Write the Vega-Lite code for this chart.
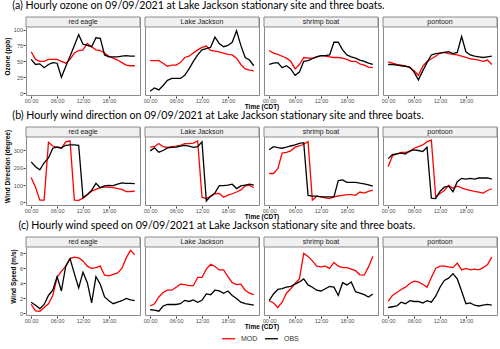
{
"$schema": "https://vega.github.io/schema/vega-lite/v6.json",
"padding": {"left": 4, "top": 1, "right": 0, "bottom": 0},
"background": "white",
"datasets": {
"oz": [
{"s":"red eagle","h":0,"MOD":65,"OBS":53},{"s":"red eagle","h":1,"MOD":53,"OBS":45},{"s":"red eagle","h":2,"MOD":50,"OBS":46},{"s":"red eagle","h":3,"MOD":50,"OBS":40},{"s":"red eagle","h":4,"MOD":53,"OBS":45},{"s":"red eagle","h":5,"MOD":53,"OBS":48},{"s":"red eagle","h":6,"MOD":53,"OBS":47},{"s":"red eagle","h":7,"MOD":50,"OBS":25},{"s":"red eagle","h":8,"MOD":47,"OBS":42},{"s":"red eagle","h":9,"MOD":53,"OBS":58},{"s":"red eagle","h":10,"MOD":63,"OBS":75},{"s":"red eagle","h":11,"MOD":67,"OBS":92},{"s":"red eagle","h":12,"MOD":68,"OBS":77},{"s":"red eagle","h":13,"MOD":78,"OBS":75},{"s":"red eagle","h":14,"MOD":73,"OBS":73},{"s":"red eagle","h":15,"MOD":68,"OBS":87},{"s":"red eagle","h":16,"MOD":67,"OBS":86},{"s":"red eagle","h":17,"MOD":63,"OBS":60},{"s":"red eagle","h":18,"MOD":58,"OBS":57},{"s":"red eagle","h":19,"MOD":55,"OBS":57},{"s":"red eagle","h":20,"MOD":52,"OBS":57},{"s":"red eagle","h":21,"MOD":48,"OBS":58},{"s":"red eagle","h":22,"MOD":44,"OBS":59},{"s":"red eagle","h":23,"MOD":43,"OBS":58},{"s":"red eagle","h":24,"MOD":43,"OBS":58},
{"s":"Lake Jackson","h":0,"MOD":51,"OBS":3},{"s":"Lake Jackson","h":1,"MOD":51,"OBS":8},{"s":"Lake Jackson","h":2,"MOD":51,"OBS":5},{"s":"Lake Jackson","h":3,"MOD":47,"OBS":12},{"s":"Lake Jackson","h":4,"MOD":42,"OBS":20},{"s":"Lake Jackson","h":5,"MOD":44,"OBS":23},{"s":"Lake Jackson","h":6,"MOD":44,"OBS":23},{"s":"Lake Jackson","h":7,"MOD":48,"OBS":23},{"s":"Lake Jackson","h":8,"MOD":56,"OBS":28},{"s":"Lake Jackson","h":9,"MOD":58,"OBS":38},{"s":"Lake Jackson","h":10,"MOD":63,"OBS":50},{"s":"Lake Jackson","h":11,"MOD":68,"OBS":60},{"s":"Lake Jackson","h":12,"MOD":72,"OBS":68},{"s":"Lake Jackson","h":13,"MOD":74,"OBS":70},{"s":"Lake Jackson","h":14,"MOD":67,"OBS":72},{"s":"Lake Jackson","h":15,"MOD":66,"OBS":88},{"s":"Lake Jackson","h":16,"MOD":65,"OBS":78},{"s":"Lake Jackson","h":17,"MOD":63,"OBS":73},{"s":"Lake Jackson","h":18,"MOD":61,"OBS":75},{"s":"Lake Jackson","h":19,"MOD":60,"OBS":80},{"s":"Lake Jackson","h":20,"MOD":55,"OBS":98},{"s":"Lake Jackson","h":21,"MOD":45,"OBS":75},{"s":"Lake Jackson","h":22,"MOD":38,"OBS":56},{"s":"Lake Jackson","h":23,"MOD":36,"OBS":52},{"s":"Lake Jackson","h":24,"MOD":35,"OBS":43},
{"s":"shrimp boat","h":0,"MOD":67,"OBS":45},{"s":"shrimp boat","h":1,"MOD":63,"OBS":47},{"s":"shrimp boat","h":2,"MOD":61,"OBS":48},{"s":"shrimp boat","h":3,"MOD":58,"OBS":40},{"s":"shrimp boat","h":4,"MOD":55,"OBS":43},{"s":"shrimp boat","h":5,"MOD":50,"OBS":38},{"s":"shrimp boat","h":6,"MOD":38,"OBS":28},{"s":"shrimp boat","h":7,"MOD":45,"OBS":33},{"s":"shrimp boat","h":8,"MOD":56,"OBS":50},{"s":"shrimp boat","h":9,"MOD":55,"OBS":51},{"s":"shrimp boat","h":10,"MOD":55,"OBS":54},{"s":"shrimp boat","h":11,"MOD":57,"OBS":57},{"s":"shrimp boat","h":12,"MOD":59,"OBS":59},{"s":"shrimp boat","h":13,"MOD":58,"OBS":59},{"s":"shrimp boat","h":14,"MOD":57,"OBS":60},{"s":"shrimp boat","h":15,"MOD":56,"OBS":80},{"s":"shrimp boat","h":16,"MOD":56,"OBS":80},{"s":"shrimp boat","h":17,"MOD":55,"OBS":68},{"s":"shrimp boat","h":18,"MOD":53,"OBS":60},{"s":"shrimp boat","h":19,"MOD":50,"OBS":57},{"s":"shrimp boat","h":20,"MOD":50,"OBS":55},{"s":"shrimp boat","h":21,"MOD":46,"OBS":52},{"s":"shrimp boat","h":22,"MOD":44,"OBS":50},{"s":"shrimp boat","h":23,"MOD":41,"OBS":47},{"s":"shrimp boat","h":24,"MOD":40,"OBS":45},
{"s":"pontoon","h":0,"MOD":49,"OBS":45},{"s":"pontoon","h":1,"MOD":47,"OBS":45},{"s":"pontoon","h":2,"MOD":45,"OBS":44},{"s":"pontoon","h":3,"MOD":44,"OBS":43},{"s":"pontoon","h":4,"MOD":43,"OBS":42},{"s":"pontoon","h":5,"MOD":40,"OBS":41},{"s":"pontoon","h":6,"MOD":35,"OBS":33},{"s":"pontoon","h":7,"MOD":28,"OBS":21},{"s":"pontoon","h":8,"MOD":42,"OBS":35},{"s":"pontoon","h":9,"MOD":50,"OBS":48},{"s":"pontoon","h":10,"MOD":54,"OBS":60},{"s":"pontoon","h":11,"MOD":58,"OBS":62},{"s":"pontoon","h":12,"MOD":63,"OBS":63},{"s":"pontoon","h":13,"MOD":64,"OBS":64},{"s":"pontoon","h":14,"MOD":62,"OBS":65},{"s":"pontoon","h":15,"MOD":61,"OBS":62},{"s":"pontoon","h":16,"MOD":60,"OBS":64},{"s":"pontoon","h":17,"MOD":58,"OBS":89},{"s":"pontoon","h":18,"MOD":56,"OBS":65},{"s":"pontoon","h":19,"MOD":54,"OBS":60},{"s":"pontoon","h":20,"MOD":53,"OBS":58},{"s":"pontoon","h":21,"MOD":52,"OBS":57},{"s":"pontoon","h":22,"MOD":50,"OBS":56},{"s":"pontoon","h":23,"MOD":52,"OBS":57},{"s":"pontoon","h":24,"MOD":45,"OBS":58}
],
"wd": [
{"s":"red eagle","h":0,"MOD":144,"OBS":234},{"s":"red eagle","h":1,"MOD":88,"OBS":206},{"s":"red eagle","h":2,"MOD":13,"OBS":188},{"s":"red eagle","h":3,"MOD":13,"OBS":229},{"s":"red eagle","h":4,"MOD":347,"OBS":257},{"s":"red eagle","h":5,"MOD":326,"OBS":313},{"s":"red eagle","h":6,"MOD":318,"OBS":320},{"s":"red eagle","h":7,"MOD":313,"OBS":315},{"s":"red eagle","h":8,"MOD":350,"OBS":330},{"s":"red eagle","h":9,"MOD":356,"OBS":333},{"s":"red eagle","h":10,"MOD":13,"OBS":332},{"s":"red eagle","h":11,"MOD":12,"OBS":330},{"s":"red eagle","h":12,"MOD":25,"OBS":28},{"s":"red eagle","h":13,"MOD":45,"OBS":45},{"s":"red eagle","h":14,"MOD":65,"OBS":70},{"s":"red eagle","h":15,"MOD":75,"OBS":110},{"s":"red eagle","h":16,"MOD":85,"OBS":85},{"s":"red eagle","h":17,"MOD":88,"OBS":95},{"s":"red eagle","h":18,"MOD":88,"OBS":98},{"s":"red eagle","h":19,"MOD":85,"OBS":97},{"s":"red eagle","h":20,"MOD":80,"OBS":105},{"s":"red eagle","h":21,"MOD":75,"OBS":113},{"s":"red eagle","h":22,"MOD":62,"OBS":110},{"s":"red eagle","h":23,"MOD":63,"OBS":110},{"s":"red eagle","h":24,"MOD":65,"OBS":108},
{"s":"Lake Jackson","h":0,"MOD":320,"OBS":298},{"s":"Lake Jackson","h":1,"MOD":322,"OBS":315},{"s":"Lake Jackson","h":2,"MOD":340,"OBS":290},{"s":"Lake Jackson","h":3,"MOD":322,"OBS":300},{"s":"Lake Jackson","h":4,"MOD":318,"OBS":315},{"s":"Lake Jackson","h":5,"MOD":322,"OBS":318},{"s":"Lake Jackson","h":6,"MOD":325,"OBS":320},{"s":"Lake Jackson","h":7,"MOD":330,"OBS":325},{"s":"Lake Jackson","h":8,"MOD":340,"OBS":330},{"s":"Lake Jackson","h":9,"MOD":340,"OBS":325},{"s":"Lake Jackson","h":10,"MOD":343,"OBS":318},{"s":"Lake Jackson","h":11,"MOD":355,"OBS":322},{"s":"Lake Jackson","h":12,"MOD":30,"OBS":350},{"s":"Lake Jackson","h":13,"MOD":22,"OBS":8},{"s":"Lake Jackson","h":14,"MOD":35,"OBS":35},{"s":"Lake Jackson","h":15,"MOD":50,"OBS":55},{"s":"Lake Jackson","h":16,"MOD":52,"OBS":97},{"s":"Lake Jackson","h":17,"MOD":30,"OBS":97},{"s":"Lake Jackson","h":18,"MOD":42,"OBS":100},{"s":"Lake Jackson","h":19,"MOD":50,"OBS":105},{"s":"Lake Jackson","h":20,"MOD":60,"OBS":80},{"s":"Lake Jackson","h":21,"MOD":72,"OBS":95},{"s":"Lake Jackson","h":22,"MOD":95,"OBS":100},{"s":"Lake Jackson","h":23,"MOD":100,"OBS":105},{"s":"Lake Jackson","h":24,"MOD":85,"OBS":100},
{"s":"shrimp boat","h":0,"MOD":167,"OBS":304},{"s":"shrimp boat","h":1,"MOD":167,"OBS":322},{"s":"shrimp boat","h":2,"MOD":195,"OBS":317},{"s":"shrimp boat","h":3,"MOD":285,"OBS":313},{"s":"shrimp boat","h":4,"MOD":289,"OBS":319},{"s":"shrimp boat","h":5,"MOD":298,"OBS":326},{"s":"shrimp boat","h":6,"MOD":319,"OBS":332},{"s":"shrimp boat","h":7,"MOD":326,"OBS":341},{"s":"shrimp boat","h":8,"MOD":336,"OBS":345},{"s":"shrimp boat","h":9,"MOD":351,"OBS":40},{"s":"shrimp boat","h":10,"MOD":13,"OBS":36},{"s":"shrimp boat","h":11,"MOD":36,"OBS":36},{"s":"shrimp boat","h":12,"MOD":32,"OBS":32},{"s":"shrimp boat","h":13,"MOD":26,"OBS":32},{"s":"shrimp boat","h":14,"MOD":22,"OBS":32},{"s":"shrimp boat","h":15,"MOD":32,"OBS":32},{"s":"shrimp boat","h":16,"MOD":37,"OBS":126},{"s":"shrimp boat","h":17,"MOD":41,"OBS":130},{"s":"shrimp boat","h":18,"MOD":45,"OBS":116},{"s":"shrimp boat","h":19,"MOD":45,"OBS":116},{"s":"shrimp boat","h":20,"MOD":41,"OBS":116},{"s":"shrimp boat","h":21,"MOD":60,"OBS":111},{"s":"shrimp boat","h":22,"MOD":54,"OBS":107},{"s":"shrimp boat","h":23,"MOD":64,"OBS":101},{"s":"shrimp boat","h":24,"MOD":71,"OBS":94},
{"s":"pontoon","h":0,"MOD":206,"OBS":253},{"s":"pontoon","h":1,"MOD":270,"OBS":276},{"s":"pontoon","h":2,"MOD":281,"OBS":281},{"s":"pontoon","h":3,"MOD":289,"OBS":285},{"s":"pontoon","h":4,"MOD":289,"OBS":279},{"s":"pontoon","h":5,"MOD":294,"OBS":298},{"s":"pontoon","h":6,"MOD":313,"OBS":304},{"s":"pontoon","h":7,"MOD":322,"OBS":300},{"s":"pontoon","h":8,"MOD":332,"OBS":294},{"s":"pontoon","h":9,"MOD":351,"OBS":319},{"s":"pontoon","h":10,"MOD":360,"OBS":25},{"s":"pontoon","h":11,"MOD":32,"OBS":22},{"s":"pontoon","h":12,"MOD":51,"OBS":64},{"s":"pontoon","h":13,"MOD":69,"OBS":88},{"s":"pontoon","h":14,"MOD":98,"OBS":94},{"s":"pontoon","h":15,"MOD":82,"OBS":62},{"s":"pontoon","h":16,"MOD":94,"OBS":120},{"s":"pontoon","h":17,"MOD":84,"OBS":139},{"s":"pontoon","h":18,"MOD":75,"OBS":135},{"s":"pontoon","h":19,"MOD":69,"OBS":139},{"s":"pontoon","h":20,"MOD":64,"OBS":135},{"s":"pontoon","h":21,"MOD":60,"OBS":141},{"s":"pontoon","h":22,"MOD":54,"OBS":141},{"s":"pontoon","h":23,"MOD":69,"OBS":142},{"s":"pontoon","h":24,"MOD":79,"OBS":135}
],
"ws": [
{"s":"red eagle","h":0,"MOD":1.2,"OBS":1.5},{"s":"red eagle","h":1,"MOD":0.35,"OBS":1.1},{"s":"red eagle","h":2,"MOD":0.3,"OBS":0.65},{"s":"red eagle","h":3,"MOD":0.8,"OBS":1.2},{"s":"red eagle","h":4,"MOD":1.3,"OBS":2.4},{"s":"red eagle","h":5,"MOD":2.4,"OBS":3.1},{"s":"red eagle","h":6,"MOD":4.8,"OBS":4.9},{"s":"red eagle","h":7,"MOD":5.6,"OBS":3.0},{"s":"red eagle","h":8,"MOD":6.3,"OBS":6.3},{"s":"red eagle","h":9,"MOD":7.3,"OBS":7.3},{"s":"red eagle","h":10,"MOD":7.5,"OBS":5.3},{"s":"red eagle","h":11,"MOD":7.4,"OBS":3.4},{"s":"red eagle","h":12,"MOD":7.0,"OBS":5.5},{"s":"red eagle","h":13,"MOD":6.3,"OBS":4.1},{"s":"red eagle","h":14,"MOD":6.0,"OBS":1.4},{"s":"red eagle","h":15,"MOD":6.1,"OBS":4.9},{"s":"red eagle","h":16,"MOD":6.3,"OBS":3.9},{"s":"red eagle","h":17,"MOD":5.1,"OBS":2.2},{"s":"red eagle","h":18,"MOD":5.0,"OBS":1.7},{"s":"red eagle","h":19,"MOD":5.2,"OBS":1.3},{"s":"red eagle","h":20,"MOD":5.4,"OBS":1.5},{"s":"red eagle","h":21,"MOD":6.0,"OBS":1.7},{"s":"red eagle","h":22,"MOD":7.4,"OBS":2.0},{"s":"red eagle","h":23,"MOD":8.4,"OBS":1.8},{"s":"red eagle","h":24,"MOD":7.8,"OBS":1.7},
{"s":"Lake Jackson","h":0,"MOD":1.0,"OBS":0.5},{"s":"Lake Jackson","h":1,"MOD":1.3,"OBS":0.45},{"s":"Lake Jackson","h":2,"MOD":2.2,"OBS":0.3},{"s":"Lake Jackson","h":3,"MOD":2.8,"OBS":1.0},{"s":"Lake Jackson","h":4,"MOD":3.1,"OBS":1.2},{"s":"Lake Jackson","h":5,"MOD":3.1,"OBS":1.2},{"s":"Lake Jackson","h":6,"MOD":3.5,"OBS":1.2},{"s":"Lake Jackson","h":7,"MOD":3.9,"OBS":1.3},{"s":"Lake Jackson","h":8,"MOD":3.85,"OBS":1.75},{"s":"Lake Jackson","h":9,"MOD":3.7,"OBS":1.6},{"s":"Lake Jackson","h":10,"MOD":3.7,"OBS":1.8},{"s":"Lake Jackson","h":11,"MOD":4.8,"OBS":1.5},{"s":"Lake Jackson","h":12,"MOD":4.8,"OBS":1.75},{"s":"Lake Jackson","h":13,"MOD":5.9,"OBS":2.6},{"s":"Lake Jackson","h":14,"MOD":6.55,"OBS":2.5},{"s":"Lake Jackson","h":15,"MOD":6.25,"OBS":3.1},{"s":"Lake Jackson","h":16,"MOD":5.8,"OBS":3.0},{"s":"Lake Jackson","h":17,"MOD":5.8,"OBS":2.7},{"s":"Lake Jackson","h":18,"MOD":4.9,"OBS":3.0},{"s":"Lake Jackson","h":19,"MOD":4.1,"OBS":2.4},{"s":"Lake Jackson","h":20,"MOD":3.85,"OBS":2.0},{"s":"Lake Jackson","h":21,"MOD":3.9,"OBS":1.5},{"s":"Lake Jackson","h":22,"MOD":3.1,"OBS":1.3},{"s":"Lake Jackson","h":23,"MOD":2.7,"OBS":1.2},{"s":"Lake Jackson","h":24,"MOD":2.5,"OBS":1.1},
{"s":"shrimp boat","h":0,"MOD":1.7,"OBS":1.7},{"s":"shrimp boat","h":1,"MOD":1.4,"OBS":2.6},{"s":"shrimp boat","h":2,"MOD":0.8,"OBS":3.2},{"s":"shrimp boat","h":3,"MOD":1.5,"OBS":3.3},{"s":"shrimp boat","h":4,"MOD":2.7,"OBS":3.5},{"s":"shrimp boat","h":5,"MOD":3.3,"OBS":3.6},{"s":"shrimp boat","h":6,"MOD":4.0,"OBS":3.9},{"s":"shrimp boat","h":7,"MOD":4.6,"OBS":4.2},{"s":"shrimp boat","h":8,"MOD":8.0,"OBS":4.6},{"s":"shrimp boat","h":9,"MOD":7.6,"OBS":3.8},{"s":"shrimp boat","h":10,"MOD":7.0,"OBS":3.5},{"s":"shrimp boat","h":11,"MOD":6.3,"OBS":3.1},{"s":"shrimp boat","h":12,"MOD":6.2,"OBS":3.0},{"s":"shrimp boat","h":13,"MOD":6.3,"OBS":3.3},{"s":"shrimp boat","h":14,"MOD":6.0,"OBS":3.6},{"s":"shrimp boat","h":15,"MOD":6.8,"OBS":3.5},{"s":"shrimp boat","h":16,"MOD":6.3,"OBS":2.4},{"s":"shrimp boat","h":17,"MOD":6.1,"OBS":4.1},{"s":"shrimp boat","h":18,"MOD":6.1,"OBS":3.8},{"s":"shrimp boat","h":19,"MOD":5.9,"OBS":4.2},{"s":"shrimp boat","h":20,"MOD":5.7,"OBS":2.9},{"s":"shrimp boat","h":21,"MOD":5.15,"OBS":2.7},{"s":"shrimp boat","h":22,"MOD":5.1,"OBS":2.5},{"s":"shrimp boat","h":23,"MOD":6.2,"OBS":2.2},{"s":"shrimp boat","h":24,"MOD":7.6,"OBS":2.6},
{"s":"pontoon","h":0,"MOD":1.6,"OBS":0.8},{"s":"pontoon","h":1,"MOD":2.4,"OBS":0.9},{"s":"pontoon","h":2,"MOD":2.8,"OBS":1.0},{"s":"pontoon","h":3,"MOD":3.2,"OBS":1.5},{"s":"pontoon","h":4,"MOD":3.5,"OBS":1.3},{"s":"pontoon","h":5,"MOD":4.0,"OBS":1.7},{"s":"pontoon","h":6,"MOD":4.3,"OBS":1.6},{"s":"pontoon","h":7,"MOD":4.2,"OBS":1.6},{"s":"pontoon","h":8,"MOD":3.9,"OBS":1.4},{"s":"pontoon","h":9,"MOD":3.5,"OBS":1.7},{"s":"pontoon","h":10,"MOD":4.8,"OBS":1.5},{"s":"pontoon","h":11,"MOD":6.0,"OBS":2.3},{"s":"pontoon","h":12,"MOD":6.3,"OBS":3.5},{"s":"pontoon","h":13,"MOD":6.3,"OBS":4.4},{"s":"pontoon","h":14,"MOD":6.2,"OBS":4.7},{"s":"pontoon","h":15,"MOD":6.1,"OBS":5.3},{"s":"pontoon","h":16,"MOD":6.7,"OBS":4.6},{"s":"pontoon","h":17,"MOD":5.8,"OBS":3.0},{"s":"pontoon","h":18,"MOD":6.0,"OBS":1.3},{"s":"pontoon","h":19,"MOD":5.8,"OBS":1.4},{"s":"pontoon","h":20,"MOD":5.9,"OBS":1.1},{"s":"pontoon","h":21,"MOD":5.8,"OBS":1.0},{"s":"pontoon","h":22,"MOD":6.1,"OBS":1.1},{"s":"pontoon","h":23,"MOD":6.5,"OBS":1.2},{"s":"pontoon","h":24,"MOD":7.5,"OBS":1.1}
]
},
"vconcat": [
{
"data": {"name": "oz"},
"title": {"text": "(a) Hourly ozone on 09/09/2021 at Lake Jackson stationary site and  three boats."},
"facet": {"column": {"field": "s", "type": "nominal", "sort": ["red eagle", "Lake Jackson", "shrimp boat", "pontoon"], "header": {"labels": false, "title": "Time (CDT)", "titleOrient": "bottom"}}},
"spacing": 3,
"spec": {
"width": 114, "height": 78,
"layer": [
{"transform": [{"filter": "datum.h == 0"}], "mark": {"type": "rect", "fill": "#f0f0f0", "stroke": "#8a8a8a", "strokeWidth": 1},
"encoding": {"y": {"datum": 104, "type": "quantitative", "scale": {"domain": [-3, 119.7], "nice": false, "zero": false}, "axis": {"title": "Ozone (ppb)", "values": [0, 12.5, 25, 37.5, 50, 62.5, 75, 87.5, 100], "labelExpr": "datum.value % 25 == 0 ? datum.label : ''", "tickOpacity": {"condition": {"test": "datum.value % 25 != 0", "value": 0}, "value": 1}, "gridColor": {"condition": {"test": "datum.value % 25 != 0", "value": "#f4f4f4"}, "value": "#e6e6e6"}}}, "y2": {"datum": 119.7}}},
{"transform": [{"filter": "datum.h == 0"}], "mark": {"type": "text", "fontSize": 7, "font": "Liberation Sans", "color": "#1a1a1a"},
"encoding": {"text": {"field": "s"},
"x": {"datum": 12, "type": "quantitative", "scale": {"domain": [-1.2, 25.2], "nice": false, "zero": false}, "axis": {"title": null, "values": [0, 3, 6, 9, 12, 15, 18, 21], "labelExpr": "datum.value % 6 == 0 ? ((datum.value < 10 ? '0' : '') + datum.value + ':00') : ''", "tickOpacity": {"condition": {"test": "datum.value % 6 != 0", "value": 0}, "value": 1}, "gridColor": {"condition": {"test": "datum.value % 6 != 0", "value": "#f4f4f4"}, "value": "#e6e6e6"}}},
"y": {"datum": 111.9, "type": "quantitative", "scale": {"domain": [-3, 119.7], "nice": false, "zero": false}, "axis": {"title": "Ozone (ppb)", "values": [0, 12.5, 25, 37.5, 50, 62.5, 75, 87.5, 100], "labelExpr": "datum.value % 25 == 0 ? datum.label : ''", "tickOpacity": {"condition": {"test": "datum.value % 25 != 0", "value": 0}, "value": 1}, "gridColor": {"condition": {"test": "datum.value % 25 != 0", "value": "#f4f4f4"}, "value": "#e6e6e6"}}}}},
{"transform": [{"fold": ["MOD", "OBS"], "as": ["src", "v"]}], "mark": {"type": "line", "strokeWidth": 1.3},
"encoding": {
"x": {"field": "h", "type": "quantitative", "scale": {"domain": [-1.2, 25.2], "nice": false, "zero": false}, "axis": {"title": null, "values": [0, 3, 6, 9, 12, 15, 18, 21], "labelExpr": "datum.value % 6 == 0 ? ((datum.value < 10 ? '0' : '') + datum.value + ':00') : ''", "tickOpacity": {"condition": {"test": "datum.value % 6 != 0", "value": 0}, "value": 1}, "gridColor": {"condition": {"test": "datum.value % 6 != 0", "value": "#f4f4f4"}, "value": "#e6e6e6"}}},
"y": {"field": "v", "type": "quantitative", "scale": {"domain": [-3, 119.7], "nice": false, "zero": false}, "axis": {"title": "Ozone (ppb)", "values": [0, 12.5, 25, 37.5, 50, 62.5, 75, 87.5, 100], "labelExpr": "datum.value % 25 == 0 ? datum.label : ''", "tickOpacity": {"condition": {"test": "datum.value % 25 != 0", "value": 0}, "value": 1}, "gridColor": {"condition": {"test": "datum.value % 25 != 0", "value": "#f4f4f4"}, "value": "#e6e6e6"}}},
"color": {"field": "src", "type": "nominal", "scale": {"domain": ["MOD", "OBS"], "range": ["#ff0000", "#000000"]}, "legend": {"title": null, "orient": "none", "direction": "horizontal", "legendX": 195, "legendY": 314}}
}}
]
}
},
{
"data": {"name": "wd"},
"title": {"text": "(b) Hourly wind direction on 09/09/2021 at Lake Jackson stationary site and three boats."},
"facet": {"column": {"field": "s", "type": "nominal", "sort": ["red eagle", "Lake Jackson", "shrimp boat", "pontoon"], "header": {"labels": false, "title": "Time (CDT)", "titleOrient": "bottom"}}},
"spacing": 3,
"spec": {
"width": 114, "height": 78,
"layer": [
{"transform": [{"filter": "datum.h == 0"}], "mark": {"type": "rect", "fill": "#f0f0f0", "stroke": "#8a8a8a", "strokeWidth": 1},
"encoding": {"y": {"datum": 378, "type": "quantitative", "scale": {"domain": [-15, 435.8], "nice": false, "zero": false}, "axis": {"title": "Wind Direction (degree)", "values": [0, 50, 100, 150, 200, 250, 300, 350], "labelExpr": "datum.value % 100 == 0 ? datum.label : ''", "tickOpacity": {"condition": {"test": "datum.value % 100 != 0", "value": 0}, "value": 1}, "gridColor": {"condition": {"test": "datum.value % 100 != 0", "value": "#f4f4f4"}, "value": "#e6e6e6"}}}, "y2": {"datum": 435.8}}},
{"transform": [{"filter": "datum.h == 0"}], "mark": {"type": "text", "fontSize": 7, "font": "Liberation Sans", "color": "#1a1a1a"},
"encoding": {"text": {"field": "s"},
"x": {"datum": 12, "type": "quantitative", "scale": {"domain": [-1.2, 25.2], "nice": false, "zero": false}, "axis": {"title": null, "values": [0, 3, 6, 9, 12, 15, 18, 21], "labelExpr": "datum.value % 6 == 0 ? ((datum.value < 10 ? '0' : '') + datum.value + ':00') : ''", "tickOpacity": {"condition": {"test": "datum.value % 6 != 0", "value": 0}, "value": 1}, "gridColor": {"condition": {"test": "datum.value % 6 != 0", "value": "#f4f4f4"}, "value": "#e6e6e6"}}},
"y": {"datum": 406.9, "type": "quantitative", "scale": {"domain": [-15, 435.8], "nice": false, "zero": false}, "axis": {"title": "Wind Direction (degree)", "values": [0, 50, 100, 150, 200, 250, 300, 350], "labelExpr": "datum.value % 100 == 0 ? datum.label : ''", "tickOpacity": {"condition": {"test": "datum.value % 100 != 0", "value": 0}, "value": 1}, "gridColor": {"condition": {"test": "datum.value % 100 != 0", "value": "#f4f4f4"}, "value": "#e6e6e6"}}}}},
{"transform": [{"fold": ["MOD", "OBS"], "as": ["src", "v"]}], "mark": {"type": "line", "strokeWidth": 1.3},
"encoding": {
"x": {"field": "h", "type": "quantitative", "scale": {"domain": [-1.2, 25.2], "nice": false, "zero": false}, "axis": {"title": null, "values": [0, 3, 6, 9, 12, 15, 18, 21], "labelExpr": "datum.value % 6 == 0 ? ((datum.value < 10 ? '0' : '') + datum.value + ':00') : ''", "tickOpacity": {"condition": {"test": "datum.value % 6 != 0", "value": 0}, "value": 1}, "gridColor": {"condition": {"test": "datum.value % 6 != 0", "value": "#f4f4f4"}, "value": "#e6e6e6"}}},
"y": {"field": "v", "type": "quantitative", "scale": {"domain": [-15, 435.8], "nice": false, "zero": false}, "axis": {"title": "Wind Direction (degree)", "values": [0, 50, 100, 150, 200, 250, 300, 350], "labelExpr": "datum.value % 100 == 0 ? datum.label : ''", "tickOpacity": {"condition": {"test": "datum.value % 100 != 0", "value": 0}, "value": 1}, "gridColor": {"condition": {"test": "datum.value % 100 != 0", "value": "#f4f4f4"}, "value": "#e6e6e6"}}},
"color": {"field": "src", "type": "nominal", "scale": {"domain": ["MOD", "OBS"], "range": ["#ff0000", "#000000"]}}
}}
]
}
},
{
"data": {"name": "ws"},
"title": {"text": "(c) Hourly wind speed on 09/09/2021 at Lake Jackson stationary site and three boats."},
"facet": {"column": {"field": "s", "type": "nominal", "sort": ["red eagle", "Lake Jackson", "shrimp boat", "pontoon"], "header": {"labels": false, "title": "Time (CDT)", "titleOrient": "bottom"}}},
"spacing": 3,
"spec": {
"width": 114, "height": 78,
"layer": [
{"transform": [{"filter": "datum.h == 0"}], "mark": {"type": "rect", "fill": "#f0f0f0", "stroke": "#8a8a8a", "strokeWidth": 1},
"encoding": {"y": {"datum": 8.85, "type": "quantitative", "scale": {"domain": [-0.2, 10.181], "nice": false, "zero": false}, "axis": {"title": "Wind Speed (m/s)", "values": [0, 1, 2, 3, 4, 5, 6, 7, 8], "labelExpr": "datum.value % 2 == 0 ? datum.label : ''", "tickOpacity": {"condition": {"test": "datum.value % 2 != 0", "value": 0}, "value": 1}, "gridColor": {"condition": {"test": "datum.value % 2 != 0", "value": "#f4f4f4"}, "value": "#e6e6e6"}}}, "y2": {"datum": 10.181}}},
{"transform": [{"filter": "datum.h == 0"}], "mark": {"type": "text", "fontSize": 7, "font": "Liberation Sans", "color": "#1a1a1a"},
"encoding": {"text": {"field": "s"},
"x": {"datum": 12, "type": "quantitative", "scale": {"domain": [-1.2, 25.2], "nice": false, "zero": false}, "axis": {"title": null, "values": [0, 3, 6, 9, 12, 15, 18, 21], "labelExpr": "datum.value % 6 == 0 ? ((datum.value < 10 ? '0' : '') + datum.value + ':00') : ''", "tickOpacity": {"condition": {"test": "datum.value % 6 != 0", "value": 0}, "value": 1}, "gridColor": {"condition": {"test": "datum.value % 6 != 0", "value": "#f4f4f4"}, "value": "#e6e6e6"}}},
"y": {"datum": 9.52, "type": "quantitative", "scale": {"domain": [-0.2, 10.181], "nice": false, "zero": false}, "axis": {"title": "Wind Speed (m/s)", "values": [0, 1, 2, 3, 4, 5, 6, 7, 8], "labelExpr": "datum.value % 2 == 0 ? datum.label : ''", "tickOpacity": {"condition": {"test": "datum.value % 2 != 0", "value": 0}, "value": 1}, "gridColor": {"condition": {"test": "datum.value % 2 != 0", "value": "#f4f4f4"}, "value": "#e6e6e6"}}}}},
{"transform": [{"fold": ["MOD", "OBS"], "as": ["src", "v"]}], "mark": {"type": "line", "strokeWidth": 1.3},
"encoding": {
"x": {"field": "h", "type": "quantitative", "scale": {"domain": [-1.2, 25.2], "nice": false, "zero": false}, "axis": {"title": null, "values": [0, 3, 6, 9, 12, 15, 18, 21], "labelExpr": "datum.value % 6 == 0 ? ((datum.value < 10 ? '0' : '') + datum.value + ':00') : ''", "tickOpacity": {"condition": {"test": "datum.value % 6 != 0", "value": 0}, "value": 1}, "gridColor": {"condition": {"test": "datum.value % 6 != 0", "value": "#f4f4f4"}, "value": "#e6e6e6"}}},
"y": {"field": "v", "type": "quantitative", "scale": {"domain": [-0.2, 10.181], "nice": false, "zero": false}, "axis": {"title": "Wind Speed (m/s)", "values": [0, 1, 2, 3, 4, 5, 6, 7, 8], "labelExpr": "datum.value % 2 == 0 ? datum.label : ''", "tickOpacity": {"condition": {"test": "datum.value % 2 != 0", "value": 0}, "value": 1}, "gridColor": {"condition": {"test": "datum.value % 2 != 0", "value": "#f4f4f4"}, "value": "#e6e6e6"}}},
"color": {"field": "src", "type": "nominal", "scale": {"domain": ["MOD", "OBS"], "range": ["#ff0000", "#000000"]}}
}}
]
}
}
],
"spacing": 0,
"config": {
"font": "Liberation Sans",
"view": {"stroke": "#8a8a8a", "strokeWidth": 1},
"title": {"anchor": "start", "font": "Lato", "fontSize": 10.6, "fontWeight": "normal", "color": "#000000", "offset": 0, "dx": 8},
"axis": {"domain": false, "labelFontSize": 5.5, "labelColor": "#4d4d4d", "tickColor": "#333333", "tickSize": 2, "labelPadding": 0.5, "titleFontSize": 6.5, "titleFontWeight": "bold", "titleColor": "#000000", "titlePadding": 3, "gridWidth": 0.8},
"header": {"titleFontSize": 6.5, "titleFontWeight": "bold", "titleColor": "#000000", "titlePadding": -10, "labelPadding": 0},
"legend": {"labelFontSize": 7, "labelColor": "#333333", "symbolStrokeWidth": 1.3, "symbolSize": 170, "columnPadding": 4, "labelOffset": 5}
}
}
